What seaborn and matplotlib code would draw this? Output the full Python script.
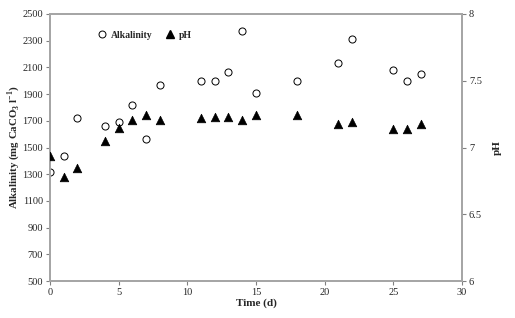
import pandas as pd
import matplotlib.pyplot as plt
import seaborn as sns
from matplotlib.lines import Line2D

# Data
time_alk = [0, 1, 2, 4, 5, 6, 7, 8, 11, 12, 13, 14, 15, 18, 21, 22, 25, 26, 27]
alkalinity = [1315, 1440, 1725, 1660, 1695, 1815, 1565, 1970, 2000, 2000,
              2065, 2375, 1905, 2000, 2130, 2312, 2078, 2002, 2047]

time_ph = [0, 1, 2, 4, 5, 6, 7, 8, 11, 12, 13, 14, 15, 18, 21, 22, 25, 26, 27]
ph = [6.94, 6.78, 6.85, 7.05, 7.15, 7.21, 7.24, 7.21, 7.22, 7.23,
      7.23, 7.21, 7.24, 7.24, 7.18, 7.19, 7.14, 7.14, 7.18]

alk_ticks = list(range(500, 2501, 200))
ph_ticks = [6, 6.5, 7, 7.5, 8]
time_ticks = [0, 5, 10, 15, 20, 25, 30]


def main():
    sns.set_style('white')
    plt.rcParams['font.family'] = ['Liberation Serif', 'DejaVu Serif']
    plt.rcParams['mathtext.fontset'] = 'custom'
    plt.rcParams['mathtext.rm'] = 'Liberation Serif'
    plt.rcParams['mathtext.bf'] = 'Liberation Serif:bold'

    df_alk = pd.DataFrame({'Time': time_alk, 'Alkalinity': alkalinity})
    df_ph = pd.DataFrame({'Time': time_ph, 'pH': ph})

    fig = plt.figure(figsize=(5.15, 3.18), dpi=100)
    ax = fig.add_axes([0.097, 0.116, 0.8, 0.84])
    ax2 = ax.twinx()

    sns.scatterplot(data=df_alk, x='Time', y='Alkalinity', ax=ax,
                    marker='o', s=26, facecolor='white', edgecolor='black',
                    linewidth=0.7, zorder=3)
    sns.scatterplot(data=df_ph, x='Time', y='pH', ax=ax2,
                    marker='^', s=38, color='black', edgecolor='black',
                    linewidth=0.5, zorder=3)

    ax.set_xlim(0, 30)
    ax.set_ylim(500, 2500)
    ax2.set_ylim(6, 8)
    ax.set_xticks(time_ticks)
    ax.set_yticks(alk_ticks)
    ax2.set_yticks(ph_ticks)
    ax2.set_yticklabels(['6', '6.5', '7', '7.5', '8'])

    ax.set_xlabel('Time (d)', fontsize=8, fontweight='bold', labelpad=1)
    ax.set_ylabel(r'Alkalinity (mg CaCO$_\mathbf{3}$ l$^\mathbf{-1}$)',
                  fontsize=7.8, fontweight='bold', labelpad=0)
    ax2.set_ylabel('pH', fontsize=8, fontweight='bold', labelpad=8)

    for a in (ax, ax2):
        for sp in a.spines.values():
            sp.set_color('#a6a6a6')
            sp.set_linewidth(1.4)
        a.tick_params(axis='both', which='both', direction='out', length=3,
                      width=0.8, color='#808080', labelsize=7.5, pad=2)
    ax.tick_params(axis='y', left=True)
    ax.tick_params(axis='x', bottom=True)
    ax2.tick_params(axis='y', right=True)

    handles = [
        Line2D([], [], marker='o', linestyle='none', markersize=5,
               markerfacecolor='white', markeredgecolor='black',
               markeredgewidth=0.7, label='Alkalinity'),
        Line2D([], [], marker='^', linestyle='none', markersize=6,
               color='black', label='pH'),
    ]
    ax.legend(handles=handles, loc='upper left', bbox_to_anchor=(0.09, 0.97),
              ncol=2, frameon=False, handletextpad=0.3, columnspacing=1.1,
              handlelength=1.3,
              prop={'family': 'Liberation Serif', 'weight': 'bold', 'size': 7})

    fig.savefig('out.png', dpi=100)


if __name__ == '__main__':
    main()
